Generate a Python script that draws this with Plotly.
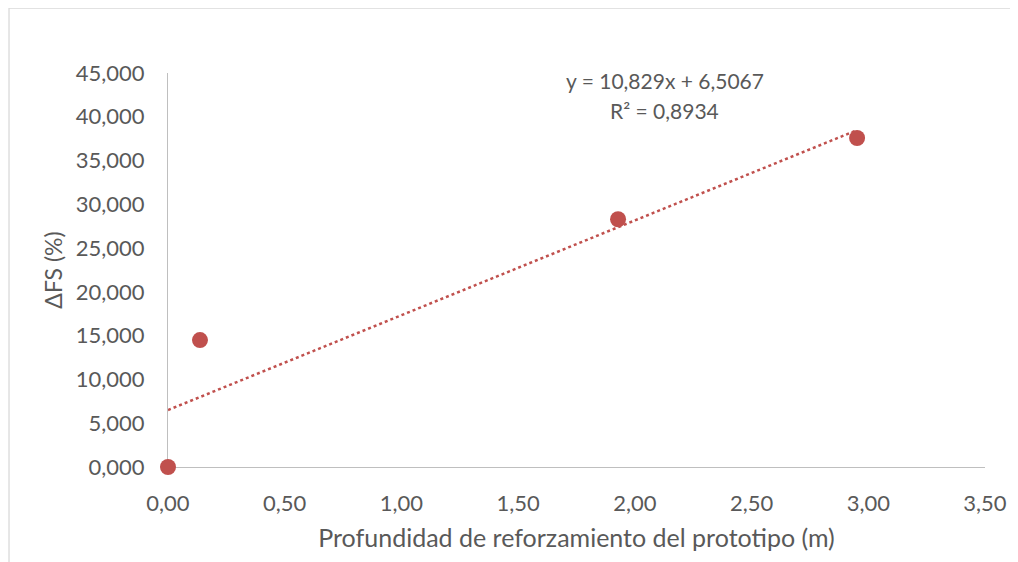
import numpy as np
import plotly.graph_objects as go

# profundidad de reforzamiento (m) vs incremento del FS (%)
profundidad = [0.0, 0.137, 1.928, 2.952]
delta_fs = [0.0, 14.5, 28.3, 37.58]

# linea de tendencia (Excel)
pendiente = 10.829
intercepto = 6.5067
r2 = 0.8934

x_ticks = [0, 0.5, 1, 1.5, 2, 2.5, 3, 3.5]
y_ticks = [0, 5, 10, 15, 20, 25, 30, 35, 40, 45]

color = "#C0504D"
gris = "#595959"
fuente = "Lato"

x_tend = np.array([min(profundidad), max(profundidad)])
y_tend = pendiente * x_tend + intercepto

fig = go.Figure()
fig.add_trace(go.Scatter(
    x=x_tend, y=y_tend, mode="lines",
    line=dict(color=color, width=2.5, dash="dot"),
    hoverinfo="skip", showlegend=False, cliponaxis=False))
fig.add_trace(go.Scatter(
    x=profundidad, y=delta_fs, mode="markers",
    marker=dict(color=color, size=16, line=dict(width=0)),
    showlegend=False, cliponaxis=False))

# ecuacion y R2, dos lineas separadas
linea1 = "y = {:.3f}x + {:.4f}".format(pendiente, intercepto).replace(".", ",")
linea2 = "R² = {:.4f}".format(r2).replace(".", ",")
for texto, yp in [(linea1, 0.982), (linea2, 0.906)]:
    fig.add_annotation(
        x=0.608, y=yp, xref="paper", yref="paper", yanchor="middle",
        text=texto, showarrow=False, align="center",
        font=dict(family=fuente, size=21, color=gris))

# borde del area del grafico
fig.add_shape(type="line", xref="paper", yref="paper",
              x0=-0.1946, x1=1.1, y0=1.165, y1=1.165,
              line=dict(color="#D9D9D9", width=1.3))
fig.add_shape(type="line", xref="paper", yref="paper",
              x0=-0.1946, x1=-0.1946, y0=-0.3, y1=1.165,
              line=dict(color="#D9D9D9", width=1.3))

# la pagina tiene 8px de margen en body
fig.update_layout(
    width=1010, height=554,
    margin=dict(l=160, r=33, t=65, b=95),
    plot_bgcolor="white", paper_bgcolor="white",
    separators=",.",
    font=dict(family=fuente, color=gris, size=22),
    xaxis=dict(
        range=[0, 3.5], tickvals=x_ticks, tickformat=".2f",
        showgrid=False, zeroline=False,
        showline=True, linecolor="#BFBFBF", linewidth=1.3,
        ticks="", ticklabelstandoff=16, layer="below traces",
        title=dict(text="Profundidad de reforzamiento del prototipo (m)",
                   font=dict(size=25), standoff=14)),
    yaxis=dict(
        range=[0, 45], tickvals=y_ticks, tickformat=".3f",
        showgrid=False, zeroline=False,
        showline=True, linecolor="#BFBFBF", linewidth=1.3,
        ticks="", ticklabelstandoff=18, layer="below traces",
        title=dict(text="ΔFS (%)", font=dict(size=23), standoff=6)),
)

fig.write_html("out.html")
